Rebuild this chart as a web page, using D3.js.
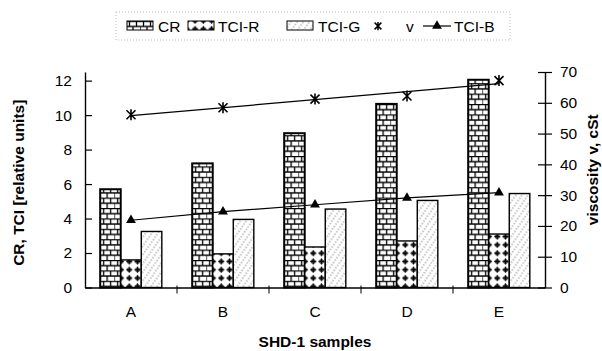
<!DOCTYPE html>
<html>
<head>
<meta charset="utf-8">
<script src="https://cdn.jsdelivr.net/npm/d3@7"></script>
<style>
  body { margin: 0; background: #fff; }
  text { font-family: "Liberation Sans", Arial, sans-serif; fill: #000; }
</style>
</head>
<body>
<div id="chart"></div>
<script>
/* DATA */
const categories = ["A", "B", "C", "D", "E"];
const cr = [5.7, 7.2, 8.95, 10.65, 12.05];
const tciR = [1.6, 1.95, 2.35, 2.7, 3.1];
const tciG = [3.25, 3.95, 4.55, 5.05, 5.45];
const tciB = [3.9, 4.4, 4.8, 5.2, 5.5];
const viscosity = [56.1, 58.4, 61.2, 62.2, 67.2];
const leftTicks = [0, 2, 4, 6, 8, 10, 12];
const rightTicks = [0, 10, 20, 30, 40, 50, 60, 70];
const barSeries = ["CR", "TCI-R", "TCI-G"];

/* CONSTANTS */
const width = 602,
  height = 351,
  margin = { top: 72, bottom: 63.5, left: 85, right: 57 };

const svg = d3.select("#chart")
  .append("svg")
  .attr("width", width)
  .attr("height", height);

// patterns for the bars
const defs = svg.append("defs");

// brick pattern (CR)
const brick = defs.append("pattern")
  .attr("id", "p-CR")
  .attr("patternUnits", "userSpaceOnUse")
  .attr("width", 14).attr("height", 10.4);
brick.append("rect").attr("width", 14).attr("height", 10.4).attr("fill", "#fff");
brick.append("path")
  .attr("d", "M0,0.5H14M0,5.7H14M3.5,0.5V5.7M10.5,0.5V5.7M0,5.7V10.4M7,5.7V10.4")
  .attr("stroke", "#000").attr("stroke-width", 1.3).attr("fill", "none");

// dotted crosses (TCI-R)
const dots = defs.append("pattern")
  .attr("id", "p-TCI-R")
  .attr("patternUnits", "userSpaceOnUse")
  .attr("width", 8.3).attr("height", 8.3);
dots.append("rect").attr("width", 8.3).attr("height", 8.3).attr("fill", "#fff");
dots.append("circle").attr("cx", 4.15).attr("cy", 4.15).attr("r", 2.4).attr("fill", "#555");
dots.append("path")
  .attr("d", "M4.15,1.2V7.1M1.2,4.15H7.1")
  .attr("stroke", "#000").attr("stroke-width", 1.2);

// sparse diagonal dashes (TCI-G)
const hatch = defs.append("pattern")
  .attr("id", "p-TCI-G")
  .attr("patternUnits", "userSpaceOnUse")
  .attr("width", 5).attr("height", 6)
  .attr("patternTransform", "rotate(35)");
hatch.append("rect").attr("width", 5).attr("height", 6).attr("fill", "#fff");
hatch.append("line")
  .attr("x1", 1).attr("y1", 0).attr("x2", 1).attr("y2", 6)
  .attr("stroke", "#8a8a8a").attr("stroke-width", 1)
  .attr("stroke-dasharray", "1.5,1.5");

/* SCALES */
const x0 = d3.scaleBand()
  .domain(categories)
  .range([margin.left, width - margin.right])
  .paddingInner(0.33)
  .paddingOuter(0.165);

const x1 = d3.scaleBand()
  .domain(barSeries)
  .range([0, x0.bandwidth()]);

const baseY = height - margin.bottom;
const yLeft = d3.scaleLinear().domain([0, 12.5]).range([baseY, margin.top]);
const yRight = d3.scaleLinear().domain([0, 70]).range([baseY, margin.top]);

const cx = c => x0(c) + x0.bandwidth() / 2;

/* BARS */
const rows = categories.map((c, i) => ({
  cat: c,
  values: [
    { key: "CR", v: cr[i] },
    { key: "TCI-R", v: tciR[i] },
    { key: "TCI-G", v: tciG[i] }
  ]
}));

svg.append("g")
  .selectAll("g")
  .data(rows)
  .join("g")
  .attr("transform", d => `translate(${x0(d.cat)},0)`)
  .selectAll("rect")
  .data(d => d.values)
  .join("rect")
  .attr("x", d => x1(d.key))
  .attr("y", d => yLeft(d.v))
  .attr("width", x1.bandwidth())
  .attr("height", d => baseY - yLeft(d.v))
  .attr("fill", d => `url(#p-${d.key})`)
  .attr("stroke", "#000")
  .attr("stroke-width", d => d.key === "CR" ? 2 : 1.4);

/* AXES */
const leftAxis = svg.append("g")
  .attr("transform", `translate(${margin.left},0)`)
  .call(d3.axisLeft(yLeft).tickValues(leftTicks).tickSize(7).tickSizeOuter(0).tickPadding(6));
leftAxis.selectAll(".tick line").attr("x2", 7);

const rightAxis = svg.append("g")
  .attr("transform", `translate(${width - margin.right},0)`)
  .call(d3.axisRight(yRight).tickValues(rightTicks).tickSize(7).tickSizeOuter(0).tickPadding(8));
rightAxis.selectAll(".tick line").attr("x1", -7);

const bottomAxis = svg.append("g")
  .attr("transform", `translate(0,${baseY})`)
  .call(d3.axisBottom(x0).tickSize(0).tickSizeOuter(0).tickPadding(18));

// category separators on the x axis
const gap = x0.step() * x0.paddingInner();
bottomAxis.selectAll(".sep")
  .data(categories.slice(1))
  .join("line")
  .attr("class", "sep")
  .attr("x1", d => x0(d) - gap / 2)
  .attr("x2", d => x0(d) - gap / 2)
  .attr("y1", -2)
  .attr("y2", 6)
  .attr("stroke", "#000");

[leftAxis, rightAxis, bottomAxis].forEach(a => {
  a.selectAll(".domain").attr("stroke", "#000").attr("stroke-width", 1.4);
  a.selectAll(".tick line").attr("stroke", "#000").attr("stroke-width", 1.2);
  a.selectAll("text").attr("font-size", 15.5).attr("font-family", null);
});

/* LINES */
// TCI-B connected line with triangles
const lineB = d3.line()
  .x((d, i) => cx(categories[i]))
  .y(d => yLeft(d));

svg.append("path")
  .datum(tciB)
  .attr("d", lineB)
  .attr("fill", "none")
  .attr("stroke", "#000")
  .attr("stroke-width", 1.2);

const triangle = d3.symbol().type(d3.symbolTriangle).size(42);
svg.append("g")
  .selectAll("path")
  .data(tciB)
  .join("path")
  .attr("d", triangle)
  .attr("transform", (d, i) => `translate(${cx(categories[i])},${yLeft(d)})`)
  .attr("fill", "#000");

// viscosity: star markers with linear trend line
const xi = categories.map((c, i) => i);
const mx = d3.mean(xi), my = d3.mean(viscosity);
const slope = d3.sum(xi, i => (i - mx) * (viscosity[i] - my)) / d3.sum(xi, i => (i - mx) ** 2);
const intercept = my - slope * mx;
const trend = [0, categories.length - 1];

svg.append("line")
  .attr("x1", cx(categories[trend[0]]))
  .attr("y1", yRight(intercept + slope * trend[0]))
  .attr("x2", cx(categories[trend[1]]))
  .attr("y2", yRight(intercept + slope * trend[1]))
  .attr("stroke", "#000")
  .attr("stroke-width", 1.2);

const starPath = "M-4.5,-4.5L4.5,4.5M-4.5,4.5L4.5,-4.5M0,-5.5L0,5.5";
svg.append("g")
  .selectAll("path")
  .data(viscosity)
  .join("path")
  .attr("d", starPath)
  .attr("transform", (d, i) => `translate(${cx(categories[i])},${yRight(d)})`)
  .attr("stroke", "#000")
  .attr("stroke-width", 1.6)
  .attr("fill", "none");

/* AXIS TITLES */
svg.append("text")
  .attr("transform", `translate(24,${(margin.top + baseY) / 2 + 3}) rotate(-90)`)
  .attr("text-anchor", "middle")
  .attr("font-size", 15.5)
  .attr("font-weight", "bold")
  .text("CR, TCI [relative units]");

svg.append("text")
  .attr("transform", `translate(598,${(margin.top + baseY) / 2 - 10}) rotate(-90)`)
  .attr("text-anchor", "middle")
  .attr("font-size", 15.5)
  .attr("font-weight", "bold")
  .text("viscosity v, cSt");

svg.append("text")
  .attr("x", (margin.left + width - margin.right) / 2)
  .attr("y", 347)
  .attr("text-anchor", "middle")
  .attr("font-size", 15.5)
  .attr("font-weight", "bold")
  .text("SHD-1 samples");

/* LEGEND */
const legend = svg.append("g");
legend.append("rect")
  .attr("x", 116).attr("y", 12)
  .attr("width", 394).attr("height", 28)
  .attr("fill", "none")
  .attr("stroke", "#bbb")
  .attr("stroke-dasharray", "1,2");

const legendY = 26;
const swatches = [
  { key: "CR", x: 127, tx: 158 },
  { key: "TCI-R", x: 188, tx: 218 },
  { key: "TCI-G", x: 287, tx: 318 }
];
swatches.forEach(s => {
  legend.append("rect")
    .attr("x", s.x).attr("y", legendY - 5)
    .attr("width", 26).attr("height", 9)
    .attr("fill", `url(#p-${s.key})`)
    .attr("stroke", "#000")
    .attr("stroke-width", 1);
  legend.append("text")
    .attr("x", s.tx).attr("y", legendY + 5.5)
    .attr("font-size", 15.5)
    .text(s.key);
});

legend.append("path")
  .attr("d", starPath)
  .attr("transform", `translate(378,${legendY}) scale(0.75)`)
  .attr("stroke", "#000").attr("stroke-width", 2).attr("fill", "none");
legend.append("text")
  .attr("x", 406).attr("y", legendY + 5.5)
  .attr("font-size", 15.5)
  .text("v");
legend.append("line")
  .attr("x1", 423).attr("x2", 451)
  .attr("y1", legendY).attr("y2", legendY)
  .attr("stroke", "#000").attr("stroke-width", 1.2);
legend.append("path")
  .attr("d", triangle)
  .attr("transform", `translate(437,${legendY})`)
  .attr("fill", "#000");
legend.append("text")
  .attr("x", 454).attr("y", legendY + 5.5)
  .attr("font-size", 15.5)
  .text("TCI-B");
</script>
</body>
</html>
